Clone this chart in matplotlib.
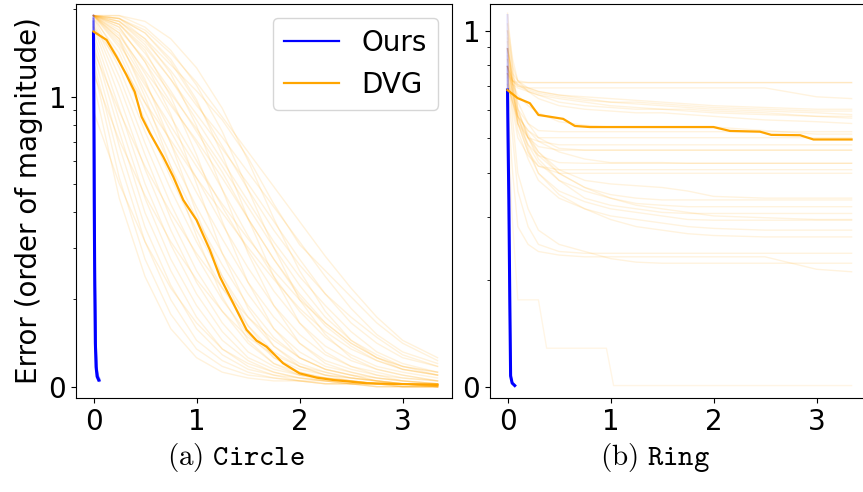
import numpy as np
import matplotlib
matplotlib.use("Agg")
import matplotlib.pyplot as plt
from matplotlib.ticker import FixedLocator, FuncFormatter, LogLocator, NullFormatter
from matplotlib.lines import Line2D

plt.rcParams['font.family'] = ['DejaVu Sans']
plt.rcParams['mathtext.fontset'] = 'cm'

# ---------------- data (values are log10 of the error) ----------------
# Circle: individual DVG runs sampled on a common x grid
circle_grid = [0, 0.25, 0.5, 0.75, 1.0, 1.25, 1.5, 1.75, 2.0, 2.25, 2.5, 2.75, 3.0, 3.34]
circle_runs = [
    [1.28, 1.27, 1.20, 1.11, 1.02, 0.92, 0.79, 0.63, 0.49, 0.40, 0.31, 0.22, 0.15, 0.09],
    [1.28, 1.27, 1.22, 1.12, 0.98, 0.83, 0.68, 0.54, 0.42, 0.32, 0.24, 0.17, 0.11, 0.07],
    [1.28, 1.26, 1.18, 1.06, 0.92, 0.78, 0.64, 0.50, 0.38, 0.28, 0.19, 0.12, 0.08, 0.05],
    [1.28, 1.25, 1.15, 1.02, 0.88, 0.74, 0.58, 0.44, 0.31, 0.21, 0.14, 0.09, 0.06, 0.04],
    [1.28, 1.24, 1.12, 0.98, 0.84, 0.68, 0.52, 0.38, 0.26, 0.17, 0.11, 0.07, 0.05, 0.03],
    [1.28, 1.22, 1.08, 0.93, 0.78, 0.62, 0.47, 0.33, 0.22, 0.14, 0.09, 0.06, 0.04, 0.02],
    [1.28, 1.20, 1.05, 0.88, 0.72, 0.56, 0.41, 0.28, 0.18, 0.11, 0.07, 0.05, 0.03, 0.02],
    [1.28, 1.19, 1.02, 0.84, 0.67, 0.51, 0.36, 0.24, 0.15, 0.09, 0.06, 0.04, 0.02, 0.01],
    [1.28, 1.17, 0.98, 0.80, 0.62, 0.46, 0.32, 0.20, 0.12, 0.07, 0.05, 0.03, 0.02, 0.01],
    [1.27, 1.15, 0.95, 0.76, 0.58, 0.42, 0.28, 0.17, 0.10, 0.06, 0.04, 0.02, 0.01, 0.01],
    [1.28, 1.13, 0.92, 0.72, 0.54, 0.38, 0.24, 0.14, 0.08, 0.05, 0.03, 0.02, 0.01, 0.01],
    [1.27, 1.10, 0.88, 0.68, 0.50, 0.34, 0.21, 0.12, 0.07, 0.04, 0.03, 0.02, 0.01, 0.01],
    [1.26, 1.07, 0.84, 0.63, 0.45, 0.30, 0.18, 0.10, 0.06, 0.04, 0.02, 0.01, 0.01, 0.00],
    [1.25, 1.04, 0.80, 0.58, 0.40, 0.26, 0.15, 0.08, 0.05, 0.03, 0.02, 0.01, 0.01, 0.00],
    [1.24, 1.00, 0.75, 0.54, 0.36, 0.22, 0.12, 0.07, 0.04, 0.03, 0.02, 0.01, 0.01, 0.00],
    [1.22, 0.96, 0.70, 0.49, 0.32, 0.19, 0.10, 0.06, 0.04, 0.02, 0.02, 0.01, 0.01, 0.00],
    [1.20, 0.92, 0.65, 0.44, 0.28, 0.16, 0.09, 0.05, 0.03, 0.02, 0.01, 0.01, 0.00, 0.00],
    [1.18, 0.88, 0.60, 0.40, 0.24, 0.13, 0.07, 0.04, 0.03, 0.02, 0.01, 0.01, 0.00, 0.00],
    [1.15, 0.83, 0.55, 0.35, 0.20, 0.11, 0.06, 0.04, 0.02, 0.02, 0.01, 0.01, 0.00, 0.00],
    [1.12, 0.78, 0.50, 0.30, 0.16, 0.09, 0.05, 0.03, 0.02, 0.01, 0.01, 0.00, 0.00, 0.00],
    [1.10, 0.72, 0.44, 0.25, 0.13, 0.07, 0.04, 0.03, 0.02, 0.01, 0.01, 0.00, 0.00, 0.00],
    [1.05, 0.65, 0.38, 0.20, 0.10, 0.05, 0.03, 0.02, 0.02, 0.01, 0.01, 0.00, 0.00, 0.00],
    [1.28, 1.28, 1.26, 1.20, 1.10, 0.96, 0.78, 0.58, 0.40, 0.26, 0.16, 0.10, 0.06, 0.04],
    [1.28, 1.28, 1.24, 1.16, 1.04, 0.88, 0.68, 0.48, 0.30, 0.18, 0.10, 0.06, 0.04, 0.02],
    [1.28, 1.27, 1.22, 1.13, 0.99, 0.80, 0.58, 0.38, 0.22, 0.12, 0.07, 0.04, 0.03, 0.02],
    [1.28, 1.26, 1.20, 1.08, 0.90, 0.68, 0.46, 0.28, 0.15, 0.08, 0.05, 0.03, 0.02, 0.01],
    [1.28, 1.25, 1.16, 1.00, 0.80, 0.57, 0.36, 0.20, 0.10, 0.06, 0.04, 0.02, 0.01, 0.01],
    [1.28, 1.24, 1.12, 0.94, 0.70, 0.46, 0.27, 0.14, 0.07, 0.04, 0.03, 0.02, 0.01, 0.01],
    [1.28, 1.22, 1.06, 0.84, 0.60, 0.38, 0.21, 0.10, 0.05, 0.03, 0.02, 0.01, 0.01, 0.00],
    [1.28, 1.20, 1.00, 0.76, 0.52, 0.31, 0.16, 0.08, 0.04, 0.03, 0.02, 0.01, 0.01, 0.00],
    [1.28, 1.26, 1.19, 1.09, 0.97, 0.86, 0.74, 0.62, 0.50, 0.38, 0.27, 0.18, 0.12, 0.08],
    [1.28, 1.25, 1.17, 1.06, 0.94, 0.82, 0.70, 0.57, 0.44, 0.32, 0.22, 0.15, 0.10, 0.07],
    [1.28, 1.23, 1.13, 1.01, 0.89, 0.76, 0.62, 0.48, 0.35, 0.24, 0.16, 0.11, 0.07, 0.05],
    [1.28, 1.21, 1.09, 0.97, 0.85, 0.72, 0.58, 0.44, 0.32, 0.22, 0.15, 0.10, 0.07, 0.05],
    [1.16, 0.95, 0.76, 0.60, 0.46, 0.34, 0.24, 0.16, 0.10, 0.06, 0.04, 0.03, 0.02, 0.01],
    [1.08, 0.85, 0.66, 0.50, 0.37, 0.26, 0.17, 0.11, 0.07, 0.05, 0.03, 0.02, 0.01, 0.01],
    [0.95, 0.70, 0.50, 0.34, 0.22, 0.13, 0.08, 0.05, 0.03, 0.02, 0.01, 0.01, 0.00, 0.00],
    [1.28, 1.18, 1.04, 0.90, 0.76, 0.63, 0.51, 0.40, 0.30, 0.22, 0.15, 0.10, 0.07, 0.04],
    [1.28, 1.27, 1.23, 1.15, 1.05, 0.93, 0.81, 0.69, 0.57, 0.45, 0.34, 0.24, 0.16, 0.10],
    [1.24, 1.12, 0.98, 0.85, 0.72, 0.60, 0.48, 0.37, 0.27, 0.19, 0.13, 0.09, 0.06, 0.04],
]
# Circle: DVG median
dvg_circle_x = [0.0, 0.127, 0.224, 0.32, 0.40, 0.467, 0.548, 0.677, 0.774, 0.871, 1.0, 1.13,
                1.227, 1.356, 1.486, 1.583, 1.68, 1.84, 2.0, 2.17, 2.33, 2.65, 3.34]
dvg_circle_y = [1.225, 1.196, 1.138, 1.075, 1.017, 0.931, 0.874, 0.793, 0.724, 0.644, 0.575, 0.471,
                0.379, 0.288, 0.196, 0.159, 0.138, 0.081, 0.046, 0.031, 0.023, 0.012, 0.006]
# Circle: Ours
ours_circle_x = [0.0, 0.003, 0.007, 0.012, 0.018, 0.025, 0.035, 0.05]
ours_circle_y = [1.22, 1.0, 0.645, 0.35, 0.15, 0.068, 0.035, 0.023]
ours_circle_run_x = [0.0, 0.004, 0.009, 0.015, 0.022, 0.03, 0.042, 0.06]
ours_circle_runs = [
    [1.28, 1.05, 0.70, 0.38, 0.16, 0.07, 0.035, 0.020],
    [1.26, 1.02, 0.66, 0.36, 0.15, 0.07, 0.040, 0.025],
    [1.27, 0.98, 0.60, 0.30, 0.13, 0.06, 0.030, 0.020],
]

# Ring: individual DVG runs
ring_grid = [0, 0.05, 0.1, 0.2, 0.3, 0.5, 0.75, 1.0, 1.25, 1.5, 1.75, 2.0, 2.5, 3.0, 3.34]
ring_runs = [
    [0.88, 0.86, 0.855, 0.855, 0.855, 0.855, 0.855, 0.855, 0.855, 0.855, 0.855, 0.855, 0.855, 0.855, 0.855],
    [0.95, 0.88, 0.86, 0.855, 0.855, 0.855, 0.855, 0.855, 0.855, 0.855, 0.855, 0.855, 0.855, 0.855, 0.855],
    [0.90, 0.86, 0.845, 0.84, 0.84, 0.84, 0.84, 0.84, 0.84, 0.84, 0.84, 0.84, 0.84, 0.815, 0.81],
    [0.92, 0.86, 0.85, 0.84, 0.83, 0.82, 0.81, 0.80, 0.795, 0.79, 0.785, 0.78, 0.775, 0.77, 0.765],
    [1.00, 0.90, 0.86, 0.84, 0.83, 0.82, 0.815, 0.81, 0.805, 0.80, 0.795, 0.79, 0.785, 0.78, 0.78],
    [0.95, 0.87, 0.85, 0.83, 0.82, 0.81, 0.80, 0.79, 0.785, 0.78, 0.78, 0.775, 0.77, 0.76, 0.755],
    [0.88, 0.85, 0.84, 0.83, 0.82, 0.80, 0.79, 0.785, 0.78, 0.78, 0.775, 0.77, 0.765, 0.76, 0.76],
    [0.90, 0.86, 0.845, 0.835, 0.825, 0.815, 0.805, 0.80, 0.80, 0.795, 0.79, 0.785, 0.78, 0.775, 0.775],
    [1.02, 0.92, 0.86, 0.83, 0.81, 0.79, 0.78, 0.775, 0.77, 0.77, 0.765, 0.76, 0.75, 0.745, 0.74],
    [0.95, 0.85, 0.78, 0.74, 0.72, 0.717, 0.717, 0.717, 0.717, 0.717, 0.717, 0.717, 0.717, 0.717, 0.717],
    [0.90, 0.82, 0.76, 0.72, 0.70, 0.70, 0.70, 0.70, 0.70, 0.70, 0.70, 0.70, 0.70, 0.70, 0.70],
    [0.88, 0.80, 0.74, 0.70, 0.69, 0.68, 0.68, 0.68, 0.68, 0.68, 0.68, 0.68, 0.68, 0.68, 0.68],
    [1.05, 0.90, 0.78, 0.70, 0.675, 0.665, 0.665, 0.665, 0.665, 0.665, 0.665, 0.665, 0.665, 0.665, 0.665],
    [0.93, 0.83, 0.74, 0.68, 0.65, 0.63, 0.628, 0.628, 0.628, 0.628, 0.628, 0.628, 0.628, 0.628, 0.628],
    [0.87, 0.78, 0.70, 0.65, 0.62, 0.61, 0.61, 0.61, 0.61, 0.61, 0.61, 0.61, 0.61, 0.61, 0.61],
    [0.98, 0.85, 0.74, 0.66, 0.62, 0.60, 0.60, 0.60, 0.60, 0.60, 0.60, 0.60, 0.60, 0.60, 0.60],
    [0.90, 0.82, 0.76, 0.70, 0.66, 0.60, 0.56, 0.54, 0.53, 0.525, 0.525, 0.525, 0.525, 0.525, 0.525],
    [0.95, 0.84, 0.76, 0.68, 0.63, 0.58, 0.55, 0.53, 0.515, 0.51, 0.506, 0.506, 0.506, 0.506, 0.506],
    [1.00, 0.88, 0.78, 0.70, 0.64, 0.58, 0.53, 0.51, 0.50, 0.49, 0.487, 0.487, 0.487, 0.487, 0.487],
    [0.92, 0.82, 0.74, 0.66, 0.60, 0.55, 0.52, 0.50, 0.49, 0.48, 0.47, 0.468, 0.468, 0.468, 0.468],
    [0.88, 0.80, 0.72, 0.64, 0.58, 0.53, 0.50, 0.48, 0.47, 0.46, 0.45, 0.445, 0.44, 0.44, 0.44],
    [0.97, 0.85, 0.76, 0.67, 0.60, 0.54, 0.50, 0.47, 0.45, 0.44, 0.43, 0.425, 0.421, 0.421, 0.421],
    [0.85, 0.80, 0.75, 0.70, 0.65, 0.60, 0.56, 0.53, 0.51, 0.50, 0.49, 0.48, 0.475, 0.47, 0.47],
    [0.90, 0.83, 0.77, 0.71, 0.66, 0.61, 0.58, 0.57, 0.565, 0.56, 0.55, 0.535, 0.53, 0.53, 0.53],
    [0.85, 0.70, 0.55, 0.45, 0.40, 0.38, 0.375, 0.375, 0.375, 0.375, 0.375, 0.375, 0.375, 0.375, 0.375],
    [0.90, 0.75, 0.60, 0.50, 0.44, 0.40, 0.38, 0.36, 0.35, 0.347, 0.347, 0.347, 0.347, 0.347, 0.347],
    [0.80, 0.60, 0.45, 0.40, 0.38, 0.37, 0.365, 0.365, 0.365, 0.365, 0.365, 0.365, 0.365, 0.33, 0.323],
    [0.86, 0.80, 0.76, 0.72, 0.69, 0.66, 0.64, 0.63, 0.63, 0.63, 0.628, 0.628, 0.628, 0.628, 0.628],
    [0.95, 0.86, 0.80, 0.74, 0.70, 0.67, 0.665, 0.665, 0.665, 0.665, 0.665, 0.665, 0.665, 0.665, 0.665],
    [0.90, 0.85, 0.82, 0.79, 0.77, 0.745, 0.735, 0.73, 0.73, 0.73, 0.73, 0.73, 0.72, 0.71, 0.71],
]
ring_low_run_x = [0.0, 0.04, 0.10, 0.30, 0.38, 0.96, 1.03, 3.34]
ring_low_run_y = [0.80, 0.50, 0.244, 0.244, 0.108, 0.108, 0.003, 0.003]
# Ring: DVG median
dvg_ring_x = [0.0, 0.10, 0.217, 0.30, 0.41, 0.54, 0.654, 0.80, 2.0, 2.16, 2.45, 2.56, 2.84, 2.97, 3.34]
dvg_ring_y = [0.834, 0.811, 0.797, 0.764, 0.759, 0.753, 0.733, 0.730, 0.730, 0.719, 0.717, 0.708,
              0.707, 0.695, 0.695]
# Ring: Ours
ours_ring_x = [0.0, 0.005, 0.013, 0.022, 0.03, 0.045, 0.07]
ours_ring_y = [0.834, 0.70, 0.525, 0.25, 0.03, 0.01, 0.003]
ours_ring_runs = [
    [1.045, 0.80, 0.55, 0.26, 0.04, 0.012, 0.003],
    [0.95, 0.75, 0.50, 0.22, 0.03, 0.010, 0.004],
    [0.90, 0.72, 0.50, 0.24, 0.035, 0.010, 0.003],
]

captions = [r'$\mathrm{(a)}\ \mathtt{Circle}$', r'$\mathrm{(b)}\ \mathtt{Ring}$']
y_label = 'Error (order of magnitude)'
legend_labels = ['Ours', 'DVG']

BLUE = '#0000ff'
ORANGE = '#ffa500'


def p(v):
    return 10 ** np.asarray(v, dtype=float)


W, H = 863, 492
fig = plt.figure(figsize=(W / 100, H / 100), dpi=100)
ax1 = fig.add_axes([76 / W, 1 - 398 / H, 376 / W, 394 / H])
ax2 = fig.add_axes([490 / W, 1 - 398 / H, 376 / W, 394 / H])

# Circle panel
for run in circle_runs:
    ax1.plot(circle_grid, p(run), color=ORANGE, alpha=0.14, lw=1.0)
for run in ours_circle_runs:
    ax1.plot(ours_circle_run_x, p(run), color=BLUE, alpha=0.3, lw=1.5)
ax1.plot(ours_circle_x, p(ours_circle_y), color=BLUE, lw=2.2)
ax1.plot(dvg_circle_x, p(dvg_circle_y), color=ORANGE, lw=1.6)

# Ring panel
for run in ring_runs:
    ax2.plot(ring_grid, p(run), color=ORANGE, alpha=0.13, lw=1.0)
ax2.plot(ring_low_run_x, p(ring_low_run_y), color=ORANGE, alpha=0.1, lw=1.0)
for run in ours_ring_runs:
    ax2.plot(ours_ring_x, p(run), color=BLUE, alpha=0.12, lw=1.5)
ax2.plot(ours_ring_x, p(ours_ring_y), color=BLUE, lw=2.2)
ax2.plot(dvg_ring_x, p(dvg_ring_y), color=ORANGE, lw=1.6)

ylims = [(-0.039, 1.32), (-0.032, 1.076)]
for ax, (lo, hi) in zip([ax1, ax2], ylims):
    ax.set_yscale('log')
    ax.set_ylim(10 ** lo, 10 ** hi)
    ax.set_xlim(-0.17, 3.48)
    ax.yaxis.set_major_locator(FixedLocator([1, 10]))
    ax.yaxis.set_major_formatter(FuncFormatter(lambda v, pos: f"{int(round(np.log10(v)))}"))
    ax.yaxis.set_minor_locator(LogLocator(base=10, subs=np.arange(2, 10)))
    ax.yaxis.set_minor_formatter(NullFormatter())
    ax.set_xticks([0, 1, 2, 3])
    ax.tick_params(axis='both', which='major', labelsize=20)

ax1.set_ylabel(y_label, fontsize=20)

handles = [Line2D([], [], color=BLUE, lw=1.6), Line2D([], [], color=ORANGE, lw=1.6)]
ax1.legend(handles, legend_labels, loc='upper right', fontsize=20)

fig.text(236 / W, 1 - 458 / H, captions[0], fontsize=21, ha='center', va='center')
fig.text(655 / W, 1 - 458 / H, captions[1], fontsize=21, ha='center', va='center')

fig.savefig('out.png', dpi=100)
